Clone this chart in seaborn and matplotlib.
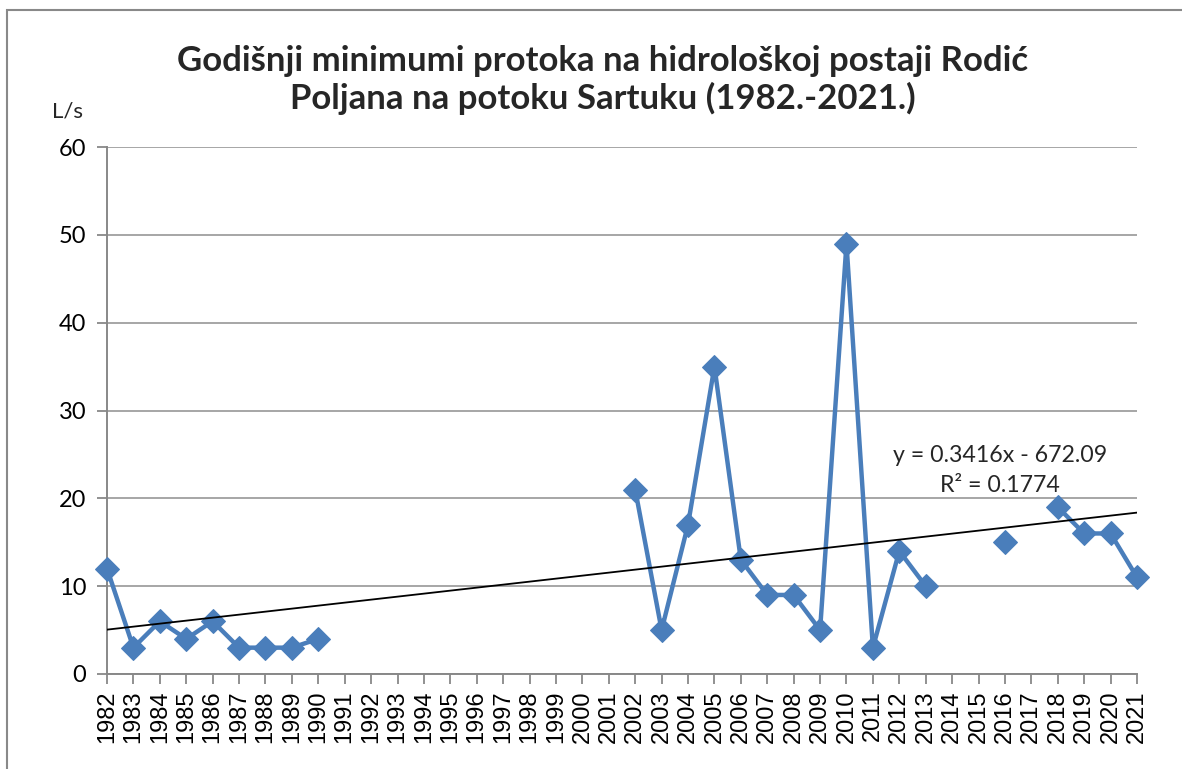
import matplotlib
matplotlib.use("Agg")
import matplotlib.pyplot as plt
import numpy as np
import pandas as pd
import seaborn as sns
from matplotlib.patches import Rectangle

years = list(range(1982, 2022))
flow = [12, 3, 6, 4, 6, 3, 3, 3, 4,
        None, None, None, None, None, None, None, None, None, None, None,
        21, 5, 17, 35, 13, 9, 9, 5, 49, 3, 14, 10,
        None, None, 15, None, 19, 16, 16, 11]
title = "Godišnji minimumi protoka na hidrološkoj postaji Rodić\nPoljana na potoku Sartuku (1982.-2021.)"
unit_label = "L/s"
eq_label = "y = 0.3416x - 672.09"
r2_label = "R² = 0.1774"

df = pd.DataFrame({"year": years, "flow": flow}, dtype=float)
df["pos"] = np.arange(len(df))
# split into runs so gaps in the record stay gaps
df["segment"] = df["flow"].isna().cumsum()
valid = df.dropna(subset=["flow"])

sns.set_theme(style="white")
plt.rcParams["font.family"] = ["Lato", "DejaVu Sans"]

blue = "#4A7EBB"
fig = plt.figure(figsize=(11.82, 7.69), dpi=100)
ax = fig.add_axes([107 / 1182, 1 - 674 / 769, 1030 / 1182, 527 / 769])

sns.lineplot(data=valid, x="pos", y="flow", units="segment", estimator=None,
             color=blue, linewidth=3.2, marker="D", markersize=12,
             markeredgecolor=blue, clip_on=False, zorder=3, ax=ax)

# linear trend over the years with data (Excel-style trendline)
sns.regplot(data=valid, x="pos", y="flow", scatter=False, ci=None,
            truncate=True, color="black", line_kws={"linewidth": 1.3, "zorder": 4}, ax=ax)

ax.set_xlim(0, len(years) - 1)
ax.set_ylim(0, 60)
ax.set_yticks(range(0, 61, 10))
ax.set_xticks(df["pos"])
ax.set_xticklabels([str(y) for y in years], rotation=90)
ax.set_xlabel("")
ax.set_ylabel("")
ax.tick_params(axis="both", colors="#888888", labelcolor="black",
               direction="out", length=7, width=1.3, bottom=True, left=True)
ax.tick_params(axis="y", labelsize=17, pad=8)
ax.tick_params(axis="x", labelsize=17, pad=5)
for lbl in ax.get_xticklabels():
    lbl.set_family("Liberation Sans")
ax.grid(axis="y", color="#A6A6A6", linewidth=1.4)
for side in ["top", "right"]:
    ax.spines[side].set_visible(False)
for side in ["left", "bottom"]:
    ax.spines[side].set_color("#888888")
    ax.spines[side].set_linewidth(1.4)

ax.text(33.8, 24.9, eq_label, ha="center", va="center", fontsize=16.7)
ax.text(33.8, 21.5, r2_label, ha="center", va="center", fontsize=16.7)

fig.text(603 / 1182, 1 - 80 / 769, title, ha="center", va="center",
         fontsize=25, fontweight="bold", linespacing=1.2)
fig.text(68 / 1182, 1 - 112 / 769, unit_label, ha="center", va="center", fontsize=16)

fig.patches.append(Rectangle((7 / 1182, -0.05), 1.2, 1.05 - 10 / 769,
                             transform=fig.transFigure, fill=False,
                             edgecolor="#898989", linewidth=1.5))

fig.savefig("out.png", dpi=100)
